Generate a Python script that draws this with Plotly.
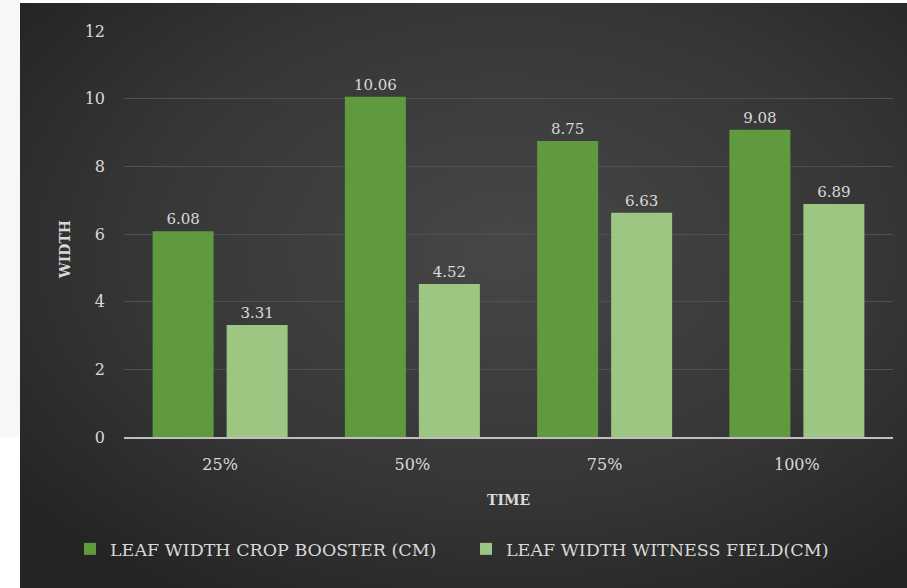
import base64
import plotly.graph_objects as go

# Leaf width measurements by time stage
stages = ["25%", "50%", "75%", "100%"]
crop_booster = [6.08, 10.06, 8.75, 9.08]
witness_field = [3.31, 4.52, 6.63, 6.89]
y_ticks = [0, 2, 4, 6, 8, 10, 12]

series_names = ["LEAF WIDTH CROP BOOSTER (CM)", "LEAF WIDTH WITNESS FIELD(CM)"]

FONT = "DejaVu Serif"
TEXT = "#d9d9d9"

W, H = 907, 588
L, R, T, B = 124, 14, 31, 151
pw, ph = W - L - R, H - T - B

# dark radial gradient panel behind the chart
svg = (
    '<svg xmlns="http://www.w3.org/2000/svg" width="887" height="585" viewBox="0 0 887 585" '
    'preserveAspectRatio="none">'
    '<defs><radialGradient id="g" cx="55%" cy="42%" r="70%">'
    '<stop offset="0" stop-color="#474747"/>'
    '<stop offset="0.6" stop-color="#363636"/>'
    '<stop offset="1" stop-color="#242424"/>'
    '</radialGradient></defs>'
    '<rect width="887" height="585" fill="url(#g)"/></svg>'
)
bg_src = "data:image/svg+xml;base64," + base64.b64encode(svg.encode()).decode()

def px_x(p):
    return (p - L) / pw

def px_y(p):
    return (H - B - p) / ph

fig = go.Figure()
fig.add_trace(go.Bar(
    name=series_names[0], x=stages, y=crop_booster,
    marker=dict(color="#5f9b3e", line=dict(width=0)),
    texttemplate="%{y:.2f}", textposition="outside",
    textfont=dict(family=FONT, size=15, color=TEXT),
    cliponaxis=False,
))
fig.add_trace(go.Bar(
    name=series_names[1], x=stages, y=witness_field,
    marker=dict(color="#9dc683", line=dict(width=0)),
    texttemplate="%{y:.2f}", textposition="outside",
    textfont=dict(family=FONT, size=15, color=TEXT),
    cliponaxis=False,
))

fig.update_layout(
    width=W, height=H,
    margin=dict(l=L, r=R, t=T, b=B, autoexpand=False),
    paper_bgcolor="white",
    plot_bgcolor="rgba(0,0,0,0)",
    barmode="group",
    bargap=0.23,
    bargroupgap=0.176,
    font=dict(family=FONT, size=15, color=TEXT),
    showlegend=True,
    legend=dict(
        orientation="h", x=px_x(70), xanchor="left", y=px_y(549), yanchor="middle",
        font=dict(family=FONT, size=17.5, color=TEXT),
        bgcolor="rgba(0,0,0,0)", itemwidth=30, tracegroupgap=0,
        entrywidth=351, entrywidthmode="pixels",
    ),
    images=[dict(
        source=bg_src, xref="paper", yref="paper",
        x=px_x(20), y=px_y(3), sizex=px_x(W) - px_x(20), sizey=px_y(3) - px_y(H),
        xanchor="left", yanchor="top", sizing="stretch", layer="below",
    )],
    shapes=[dict(
        type="rect", xref="paper", yref="paper", layer="below",
        x0=px_x(0), x1=px_x(20), y0=px_y(437), y1=px_y(0),
        fillcolor="#f7f7f7", line=dict(width=0),
    )],
    annotations=[
        dict(text="<b>TIME</b>", xref="paper", yref="paper", x=0.5, y=px_y(500),
             showarrow=False, font=dict(family=FONT, size=14, color=TEXT),
             xanchor="center", yanchor="middle"),
        dict(text="<b>WIDTH</b>", xref="paper", yref="paper", x=px_x(65), y=px_y(250),
             showarrow=False, textangle=-90, font=dict(family=FONT, size=14, color=TEXT),
             xanchor="center", yanchor="middle"),
    ],
)

fig.update_xaxes(
    showgrid=False, showline=True, linecolor="#bfbfbf", linewidth=1.5,
    tickfont=dict(family=FONT, size=16, color=TEXT), ticks="",
    ticklabelstandoff=12,
)
fig.update_yaxes(
    range=[0, 12], tickvals=y_ticks, showgrid=True, gridcolor="#505050", gridwidth=1,
    zeroline=False, showline=False,
    tickfont=dict(family=FONT, size=16, color=TEXT), ticks="",
    ticklabelstandoff=18,
)

fig.write_html("out.html")
